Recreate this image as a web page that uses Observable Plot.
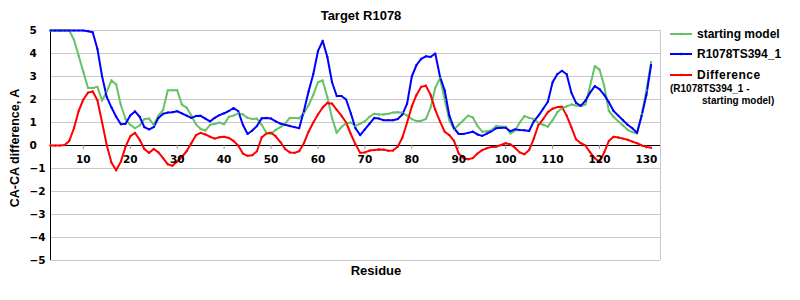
<!DOCTYPE html>
<html><head><meta charset="utf-8">
<script src="https://cdn.jsdelivr.net/npm/d3@7"></script>
<script src="https://cdn.jsdelivr.net/npm/@observablehq/plot@0.6"></script>
<style>body{margin:0;background:#fff} #chart{width:800px;height:300px}</style>
</head><body><div id="chart"></div>
<script>
const title = "Target R1078";
const xLabel = "Residue";
const yLabel = "CA-CA difference, A";
const seriesNames = ["starting model", "R1078TS394_1", "Difference"];
const seriesColors = ["#66c266", "#0000ff", "#ff0000"];
const legendNote = ["(R1078TS394_1 -", "starting model)"];
const firstResidue = 3;
const xDomain = [3, 133];
const xTicks = [10, 20, 30, 40, 50, 60, 70, 80, 90, 100, 110, 120, 130];
const yTicks = [-5, -4, -3, -2, -1, 0, 1, 2, 3, 4, 5];

// residues 3..131
const startingModel = [
  5, 5, 5, 5, 5, 4.6, 3.9, 3.2, 2.5, 2.5,
  2.55, 1.95, 2.35, 2.83, 2.65, 1.75, 1.15, 0.9, 0.75, 0.87,
  1.15, 1.17, 0.9, 1.3, 1.55, 2.4, 2.4, 2.4, 1.78, 1.65,
  1.3, 0.92, 0.72, 0.65, 0.9, 0.93, 1.0, 0.92, 1.25, 1.3,
  1.4, 1.35, 1.2, 1.15, 1.17, 0.9, 0.55, 0.5, 0.68, 0.8,
  0.95, 1.2, 1.2, 1.18, 1.4, 1.75, 2.2, 2.75, 2.83, 2.1,
  1.2, 0.55, 0.8, 0.97, 1.0, 0.85, 0.95, 1.05, 1.25, 1.38,
  1.35, 1.35, 1.38, 1.43, 1.45, 1.42, 1.3, 1.15, 1.06, 1.07,
  1.15, 1.65, 2.5, 2.93, 2.0, 1.1, 0.7, 0.9, 1.1, 1.3,
  1.22, 0.85, 0.6, 0.62, 0.66, 0.85, 0.82, 0.82, 0.52, 0.65,
  1.0, 1.28, 1.2, 1.15, 0.98, 0.9, 0.82, 1.1, 1.45, 1.62,
  1.7, 1.78, 1.74, 1.72, 1.78, 2.6, 3.45, 3.3, 2.6, 1.5,
  1.25, 1.05, 0.87, 0.68, 0.58, 0.52, 1.35, 2.4, 3.63
];
const targetModel = [
  5, 5, 5, 5, 5, 5, 5, 5, 4.97, 4.92,
  4.2, 3.0, 2.1, 1.65, 1.25, 0.92, 0.95, 1.3, 1.48, 1.25,
  0.8, 0.7, 0.8, 1.2, 1.38, 1.43, 1.45, 1.49, 1.4, 1.3,
  1.2, 1.28, 1.29, 1.17, 1.05, 1.2, 1.32, 1.4, 1.5, 1.63,
  1.5, 0.9, 0.5, 0.65, 0.85, 1.18, 1.2, 1.17, 1.05, 0.95,
  0.9, 0.85, 0.8, 0.75, 1.5, 2.35, 3.1, 4.1, 4.55, 3.85,
  2.75, 2.15, 2.15, 2.0, 1.4, 0.75, 0.45, 0.7, 0.95, 1.2,
  1.17, 1.1, 1.1, 1.1, 1.15, 1.35, 1.82, 3.0, 3.5, 3.77,
  3.88, 3.85, 4.0, 3.0, 2.4, 1.3, 0.75, 0.5, 0.5, 0.55,
  0.6, 0.48, 0.42, 0.52, 0.62, 0.75, 0.77, 0.77, 0.62, 0.7,
  0.67, 0.66, 0.63, 1.05, 1.3, 1.6, 1.9, 2.75, 3.1, 3.25,
  3.1, 2.3, 1.85, 1.72, 1.95, 2.3, 2.58, 2.45, 2.2, 1.88,
  1.5, 1.3, 1.1, 0.9, 0.75, 0.55, 1.3, 2.2, 3.5
];
const difference = [
  0, 0, 0, 0.02, 0.2, 0.75, 1.5, 2.0, 2.3, 2.35,
  1.97, 1.0, 0.0, -0.75, -1.08, -0.7, -0.05, 0.4, 0.55, 0.25,
  -0.15, -0.32, -0.15, -0.3, -0.55, -0.82, -0.88, -0.7, -0.5, -0.25,
  0.1, 0.45, 0.55, 0.48, 0.38, 0.3, 0.36, 0.38, 0.33, 0.2,
  0.0, -0.35, -0.45, -0.42, -0.25, 0.35, 0.52, 0.55, 0.4, 0.15,
  -0.15, -0.3, -0.32, -0.25, 0.1, 0.6, 1.0, 1.35, 1.65, 1.85,
  1.82, 1.55, 1.3, 1.0, 0.5, 0.05, -0.32, -0.3, -0.22, -0.2,
  -0.17, -0.18, -0.23, -0.22, -0.05, 0.35, 1.0, 1.7, 2.2, 2.55,
  2.6, 2.2, 1.55, 1.05, 0.6, 0.45, 0.2, -0.35, -0.55, -0.6,
  -0.55, -0.35, -0.2, -0.12, -0.06, -0.05, 0.02, 0.1, 0.05, -0.1,
  -0.3, -0.38, -0.2, 0.3, 0.9, 1.15, 1.45, 1.6, 1.67, 1.68,
  1.3, 0.8, 0.27, 0.1, 0.0, -0.3, -0.55, -0.72, -0.3, 0.2,
  0.38, 0.35, 0.3, 0.25, 0.17, 0.1, 0.0, -0.06, -0.1
];

const seriesData = [startingModel, targetModel, difference];
const rows = [];
seriesData.forEach((arr, s) => arr.forEach((v, i) =>
  rows.push({series: seriesNames[s], residue: firstResidue + i, value: v})));

const font = "'Liberation Sans', Arial, sans-serif";
const tickFont = "'DejaVu Sans', Verdana, sans-serif";
const fmt = d => d < 0 ? "\u2212" + Math.abs(d) : String(d);

const chart = Plot.plot({
  width: 800, height: 300,
  marginLeft: 50, marginRight: 140, marginTop: 30, marginBottom: 40,
  style: {fontFamily: font, background: "#fff", overflow: "visible"},
  x: {domain: xDomain, axis: null},
  y: {domain: [-5, 5], axis: null},
  color: {domain: seriesNames, range: seriesColors},
  marks: [
    Plot.ruleY(yTicks.filter(d => d !== 0), {y: d => d, stroke: "#c8c8c8", strokeWidth: 1}),
    Plot.ruleX([xDomain[1]], {x: d => d, stroke: "#c8c8c8"}),
    Plot.ruleY([0], {y: d => d, stroke: "#000", strokeWidth: 1}),
    Plot.ruleX([xDomain[0]], {x: d => d, stroke: "#000"}),
    Plot.ruleX(xTicks, {x: d => d, y1: 0, y2: 0, insetBottom: -4, stroke: "#999"}),
    Plot.line(rows, {x: "residue", y: "value", stroke: "series", z: "series", strokeWidth: 2}),
    Plot.dot(rows, {x: "residue", y: "value", fill: "series", r: 1.1}),
    Plot.text(yTicks, {y: d => d, frameAnchor: "left", dx: -21, textAnchor: "start", text: fmt,
      fontWeight: "bold", fontSize: 10.5, fontFamily: tickFont, fill: "#000"}),
    Plot.text(xTicks, {x: d => d, y: 0, dy: 13.7, lineAnchor: "middle", text: d => String(d),
      fontWeight: "bold", fontSize: 10.5, fontFamily: tickFont, fill: "#000"})
  ]
});

const svg = d3.select(chart);
svg.append("text").attr("x", 361).attr("y", 20).attr("text-anchor", "middle")
  .attr("font-family", font).attr("font-weight", "bold").attr("font-size", 13).attr("fill", "#000").text(title);
svg.append("text").attr("x", 376).attr("y", 275).attr("text-anchor", "middle")
  .attr("font-family", font).attr("font-weight", "bold").attr("font-size", 13).attr("fill", "#000").text(xLabel);
svg.append("text").attr("transform", "translate(19,148) rotate(-90)").attr("text-anchor", "middle")
  .attr("font-family", font).attr("font-weight", "bold").attr("font-size", 12.5).attr("fill", "#000").text(yLabel);

const legend = svg.append("g").attr("text-anchor", "start");
const rowsY = [34, 54, 75];
seriesNames.forEach((name, i) => {
  legend.append("line").attr("x1", 670).attr("x2", 692).attr("y1", rowsY[i]).attr("y2", rowsY[i])
    .attr("stroke", seriesColors[i]).attr("stroke-width", 2);
  legend.append("circle").attr("cx", 681).attr("cy", rowsY[i]).attr("r", 1.3).attr("fill", seriesColors[i]);
  legend.append("text").attr("x", 697).attr("y", rowsY[i] + 4.3).attr("text-anchor", "start")
    .attr("font-family", font).attr("font-weight", "bold").attr("font-size", 12).attr("fill", "#000")
    .attr("letter-spacing", i === 2 ? 0.5 : 0).text(name);
});
legend.append("text").attr("x", 670).attr("y", 92).attr("text-anchor", "start").attr("font-family", font)
  .attr("font-weight", "bold").attr("font-size", 10).attr("fill", "#000").text(legendNote[0]);
legend.append("text").attr("x", 702).attr("y", 103.5).attr("text-anchor", "start").attr("font-family", font)
  .attr("font-weight", "bold").attr("font-size", 10).attr("fill", "#000").text(legendNote[1]);

document.getElementById("chart").appendChild(chart);
</script>
</body></html>
